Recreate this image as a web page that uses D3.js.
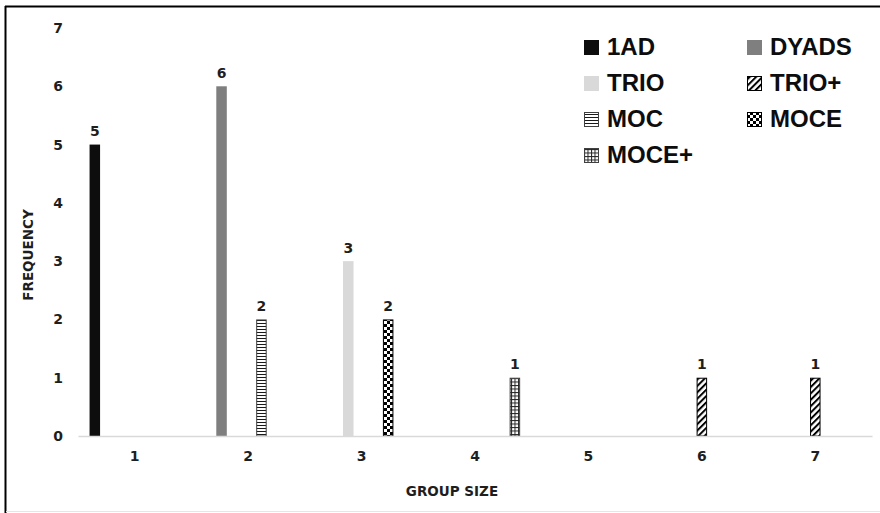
<!DOCTYPE html>
<html>
<head>
<meta charset="utf-8">
<script src="https://cdn.jsdelivr.net/npm/d3@7"></script>
<style>
  html, body { margin: 0; padding: 0; background: #fff; }
  svg { display: block; font-family: "Liberation Sans", Arial, sans-serif; }
</style>
</head>
<body>
<svg id="chart" width="880" height="513"></svg>
<script>
// Group sizes along the x axis
const groupSizes = ["1", "2", "3", "4", "5", "6", "7"];
// Series, in legend / cluster order
const seriesNames = ["1AD", "DYADS", "TRIO", "TRIO+", "MOC", "MOCE", "MOCE+"];
// Frequency per group size for each series
const ad1   = [5, 0, 0, 0, 0, 0, 0];
const dyads = [0, 6, 0, 0, 0, 0, 0];
const trio  = [0, 0, 3, 0, 0, 0, 0];
const trioP = [0, 0, 0, 0, 0, 1, 1];
const moc   = [0, 2, 0, 0, 0, 0, 0];
const moce  = [0, 0, 2, 0, 0, 0, 0];
const moceP = [0, 0, 0, 1, 0, 0, 0];
const yTicks = [0, 1, 2, 3, 4, 5, 6, 7];

const seriesValues = [ad1, dyads, trio, trioP, moc, moce, moceP];
const fills = {
  "1AD": "#0d0d0d",
  "DYADS": "#7f7f7f",
  "TRIO": "#d9d9d9",
  "TRIO+": "url(#pat-updiag)",
  "MOC": "url(#pat-horiz)",
  "MOCE": "url(#pat-check)",
  "MOCE+": "url(#pat-grid)"
};
const strokes = {
  "TRIO+": "#000", "MOC": "#404040", "MOCE": "#000", "MOCE+": "#404040"
};
const labelFont = "DejaVu Sans, Verdana, sans-serif";
const textColor = "#1e1e1e";

const svg = d3.select("#chart");

// Fill patterns
const defs = svg.append("defs");
const pUp = defs.append("pattern").attr("id", "pat-updiag")
  .attr("patternUnits", "userSpaceOnUse").attr("width", 4.5).attr("height", 4.5)
  .attr("patternTransform", "rotate(45)");
pUp.append("rect").attr("width", 4.5).attr("height", 4.5).attr("fill", "#fff");
pUp.append("rect").attr("width", 2).attr("height", 4.5).attr("fill", "#000");

const pH = defs.append("pattern").attr("id", "pat-horiz")
  .attr("patternUnits", "userSpaceOnUse").attr("width", 4).attr("height", 3);
pH.append("rect").attr("width", 4).attr("height", 3).attr("fill", "#fff");
pH.append("rect").attr("y", 2).attr("width", 4).attr("height", 1).attr("fill", "#1a1a1a");

const pC = defs.append("pattern").attr("id", "pat-check")
  .attr("patternUnits", "userSpaceOnUse").attr("width", 6).attr("height", 6);
pC.append("rect").attr("width", 6).attr("height", 6).attr("fill", "#fff");
pC.append("rect").attr("width", 3).attr("height", 3).attr("fill", "#000");
pC.append("rect").attr("x", 3).attr("y", 3).attr("width", 3).attr("height", 3).attr("fill", "#000");

const pG = defs.append("pattern").attr("id", "pat-grid")
  .attr("patternUnits", "userSpaceOnUse").attr("width", 3.5).attr("height", 3.5);
pG.append("rect").attr("width", 3.5).attr("height", 3.5).attr("fill", "#fff");
pG.append("rect").attr("width", 3.5).attr("height", 1).attr("fill", "#222");
pG.append("rect").attr("width", 1).attr("height", 3.5).attr("fill", "#222");

// Frame
svg.append("line").attr("x1", 5.5).attr("y1", 6).attr("x2", 5.5).attr("y2", 513)
  .attr("stroke", "#000").attr("stroke-width", 2);
svg.append("line").attr("x1", 5).attr("y1", 6.5).attr("x2", 880).attr("y2", 6.5)
  .attr("stroke", "#000").attr("stroke-width", 2);
svg.append("line").attr("x1", 6).attr("y1", 511.5).attr("x2", 880).attr("y2", 511.5)
  .attr("stroke", "#e6e6e6").attr("stroke-width", 1);

// Scales
const x0 = d3.scaleBand().domain(groupSizes).range([78, 872]).padding(0);
const x1 = d3.scaleBand().domain(seriesNames).range([0, x0.bandwidth()])
  .paddingInner(0.21).paddingOuter(0.87);
const y = d3.scaleLinear().domain([0, 7]).range([436, 28]);

// Y axis (labels only)
const yAxis = svg.append("g").attr("transform", "translate(78,0)")
  .call(d3.axisLeft(y).tickValues(yTicks).tickFormat(d3.format("d")).tickSize(0).tickPadding(15));
yAxis.select(".domain").remove();
yAxis.selectAll("text").attr("font-size", 14).attr("font-weight", "bold")
  .attr("fill", textColor).attr("font-family", labelFont);

// Bars
const flat = [];
seriesNames.forEach((s, si) => {
  seriesValues[si].forEach((v, gi) => {
    if (v > 0) flat.push({ series: s, group: groupSizes[gi], value: v });
  });
});

const bars = svg.append("g");
bars.selectAll("rect").data(flat).join("rect")
  .attr("x", d => x0(d.group) + x1(d.series) + (strokes[d.series] ? 0.5 : 0))
  .attr("y", d => y(d.value) + (strokes[d.series] ? 0.5 : 0))
  .attr("width", d => x1.bandwidth() - (strokes[d.series] ? 1 : 0))
  .attr("height", d => y(0) - y(d.value) - (strokes[d.series] ? 0.5 : 0))
  .attr("fill", d => fills[d.series])
  .attr("stroke", d => strokes[d.series] || "none")
  .attr("stroke-width", 1);

// X axis
const xAxis = svg.append("g").attr("transform", "translate(0,436)")
  .call(d3.axisBottom(x0).tickSize(0).tickPadding(15));
xAxis.select(".domain").attr("stroke", "#d9d9d9").attr("stroke-width", 1.5);
xAxis.selectAll("text").attr("font-size", 14).attr("font-weight", "bold")
  .attr("fill", textColor).attr("font-family", labelFont);

// Value labels
svg.append("g").selectAll("text").data(flat).join("text")
  .attr("x", d => x0(d.group) + x1(d.series) + x1.bandwidth() / 2)
  .attr("y", d => y(d.value) - 8.5)
  .attr("text-anchor", "middle").attr("font-family", labelFont)
  .attr("font-size", 14).attr("font-weight", "bold").attr("fill", textColor)
  .text(d => d.value);

// Axis titles
svg.append("text").attr("x", 452).attr("y", 496)
  .attr("text-anchor", "middle").attr("font-family", labelFont)
  .attr("font-size", 13.5).attr("font-weight", "bold")
  .attr("fill", textColor).text("GROUP SIZE");
svg.append("text").attr("transform", "translate(33,255) rotate(-90)")
  .attr("text-anchor", "middle").attr("font-family", labelFont)
  .attr("font-size", 13.5).attr("font-weight", "bold")
  .attr("fill", textColor).text("FREQUENCY");

// Legend: two columns, four rows
const legend = svg.append("g");
const legItems = legend.selectAll("g").data(seriesNames).join("g")
  .attr("transform", (d, i) => `translate(${i % 2 === 0 ? 584 : 747},${55 + Math.floor(i / 2) * 36})`);
legItems.append("rect")
  .attr("x", d => strokes[d] ? 0.5 : 0)
  .attr("y", d => strokes[d] ? -14.5 : -15)
  .attr("width", d => strokes[d] ? 14 : 15)
  .attr("height", d => strokes[d] ? 14 : 15)
  .attr("fill", d => fills[d])
  .attr("stroke", d => strokes[d] || "none");
legItems.append("text")
  .attr("x", 23).attr("y", 0)
  .attr("font-size", 24).attr("font-weight", "bold").attr("fill", "#0d0d0d")
  .text(d => d);
</script>
</body>
</html>
